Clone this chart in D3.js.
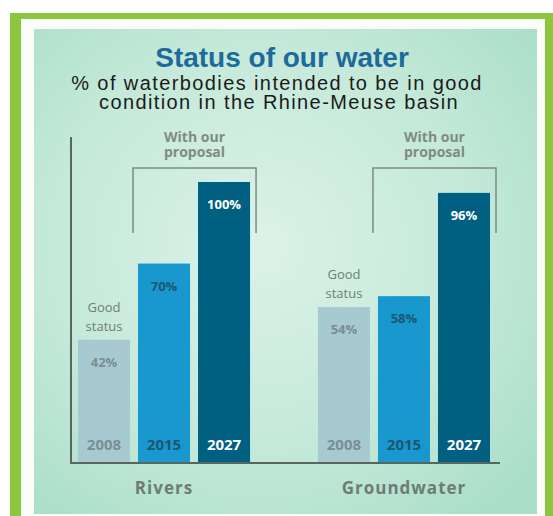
<!DOCTYPE html>
<html lang="en">
<head>
    <meta charset="UTF-8">
    <title>Status of our water</title>
    <style>
        body { margin: 0; background: #fff; }
        svg { display: block; }
        .title { font: bold 28px "Liberation Sans", Arial, sans-serif; fill: #1d6b9a; }
        .sub { font: 20px "Liberation Sans", Arial, sans-serif; fill: #1b1b1b; letter-spacing: 1.4px; }
        .lab { font-family: "Open Sans", "Noto Sans", sans-serif; }
    </style>
</head>
<body>
    <svg width="553" height="516"></svg>
    <script src="https://d3js.org/d3.v7.min.js"></script>
    <script>
        // values
        const categories = ["Rivers", "Groundwater"];
        const years = ["2008", "2015", "2027"];
        const rivers = [42, 70, 100];
        const groundwater = [54, 58, 96];
        const series = [rivers, groundwater];

        const barColor = ["#a6cad0", "#1898cf", "#015f81"];
        const textColor = ["#7a8e92", "#1c5675", "#ffffff"];

        const svg = d3.select("svg");

        // frame: green border, white inner border, teal panel
        const defs = svg.append("defs");
        const grad = defs.append("radialGradient").attr("id", "panel")
            .attr("cx", "45%").attr("cy", "45%").attr("r", "70%");
        grad.append("stop").attr("offset", "0%").attr("stop-color", "#dcf2e8");
        grad.append("stop").attr("offset", "60%").attr("stop-color", "#c4e9d9");
        grad.append("stop").attr("offset", "100%").attr("stop-color", "#abdfca");

        svg.append("rect").attr("x", 10).attr("y", 13).attr("width", 543).attr("height", 503).attr("fill", "#8cc63e");
        svg.append("rect").attr("x", 21).attr("y", 19).attr("width", 524).attr("height", 497).attr("fill", "#fbfdf8");
        svg.append("rect").attr("x", 34).attr("y", 29).attr("width", 503).attr("height", 485).attr("fill", "url(#panel)");

        // titles
        svg.append("text").attr("class", "title").attr("x", 282).attr("y", 67)
            .attr("text-anchor", "middle").text("Status of our water");
        svg.append("text").attr("class", "sub").attr("x", 277).attr("y", 90)
            .attr("text-anchor", "middle").text("% of waterbodies intended to be in good");
        svg.append("text").attr("class", "sub").attr("x", 279).attr("y", 109)
            .attr("text-anchor", "middle").text("condition in the Rhine-Meuse basin");

        // scales
        const x0 = d3.scaleBand().domain(categories).range([78, 490]).paddingInner(0.283);
        const x1 = d3.scaleBand().domain(years).range([0, x0.bandwidth()]).paddingInner(0.133);
        const y = d3.scaleLinear().domain([-3, 100]).range([462, 182]);

        // axes lines
        svg.append("line").attr("x1", 71).attr("x2", 71).attr("y1", 137).attr("y2", 463)
            .attr("stroke", "#55675e").attr("stroke-width", 2);
        svg.append("line").attr("x1", 70).attr("x2", 500).attr("y1", 463).attr("y2", 463)
            .attr("stroke", "#55675e").attr("stroke-width", 2);

        const group = svg.selectAll(".grp")
            .data(categories)
            .enter().append("g")
            .attr("class", "grp")
            .attr("transform", d => `translate(${x0(d)},0)`);

        group.each(function(cat, ci) {
            const g = d3.select(this);
            const vals = series[ci];

            g.selectAll("rect")
                .data(years)
                .enter().append("rect")
                .attr("x", d => x1(d))
                .attr("width", x1.bandwidth())
                .attr("y", (d, i) => y(vals[i]))
                .attr("height", (d, i) => y(-3) - y(vals[i]))
                .attr("fill", (d, i) => barColor[i]);

            // value labels
            g.selectAll(".val")
                .data(years)
                .enter().append("text")
                .attr("class", "lab val")
                .attr("x", d => x1(d) + x1.bandwidth() / 2)
                .attr("y", (d, i) => y(vals[i]) + 27)
                .attr("text-anchor", "middle")
                .style("font-size", "13px").style("font-weight", "bold")
                .attr("fill", (d, i) => textColor[i])
                .text((d, i) => vals[i] + "%");

            // year labels
            g.selectAll(".yr")
                .data(years)
                .enter().append("text")
                .attr("class", "lab yr")
                .attr("x", d => x1(d) + x1.bandwidth() / 2)
                .attr("y", 450)
                .attr("text-anchor", "middle")
                .style("font-size", "15px").style("font-weight", "bold")
                .attr("fill", (d, i) => textColor[i])
                .text(d => d);

            // "Good status" above the 2008 bar
            const gx = x1(years[0]) + x1.bandwidth() / 2;
            const gy = y(vals[0]);
            g.append("text").attr("class", "lab").attr("x", gx).attr("y", gy - 28)
                .attr("text-anchor", "middle").style("font-size", "13px")
                .attr("fill", "#6e7d75").text("Good");
            g.append("text").attr("class", "lab").attr("x", gx).attr("y", gy - 9)
                .attr("text-anchor", "middle").style("font-size", "13px")
                .attr("fill", "#6e7d75").text("status");

            // bracket "With our proposal"
            const bx1 = x1(years[1]) - 5, bx2 = x1(years[2]) + x1.bandwidth() + 6;
            g.append("path")
                .attr("d", `M${bx1},233V168H${bx2}V233`)
                .attr("fill", "none").attr("stroke", "#7d8a84").attr("stroke-width", 1.5);
            g.append("text").attr("class", "lab").attr("x", (bx1 + bx2) / 2).attr("y", 142)
                .attr("text-anchor", "middle").style("font-size", "14px").style("font-weight", "bold")
                .attr("fill", "#7f8b86").text("With our");
            g.append("text").attr("class", "lab").attr("x", (bx1 + bx2) / 2).attr("y", 157)
                .attr("text-anchor", "middle").style("font-size", "14px").style("font-weight", "bold")
                .attr("fill", "#7f8b86").text("proposal");

            // category label
            g.append("text").attr("class", "lab")
                .attr("x", x1(years[1]) + x1.bandwidth() / 2)
                .attr("y", 494)
                .attr("text-anchor", "middle")
                .style("font-size", "17px").style("font-weight", "bold").style("letter-spacing", "1px")
                .attr("fill", "#6b7d76")
                .text(cat);
        });
    </script>
</body>
</html>
